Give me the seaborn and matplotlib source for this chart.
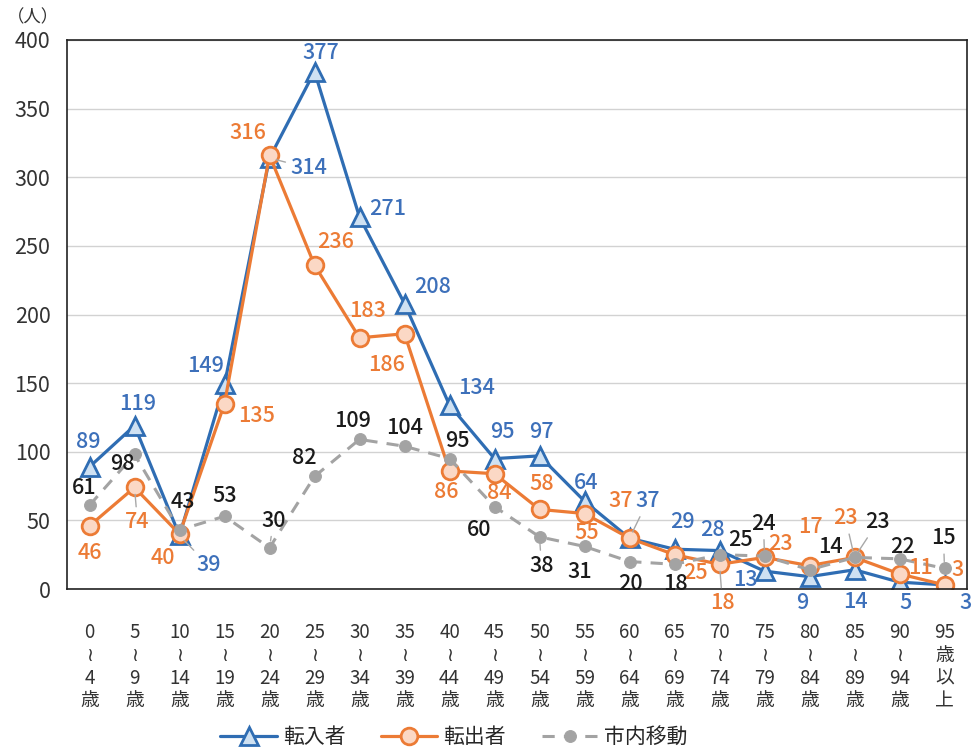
import matplotlib
matplotlib.use("Agg")
import matplotlib.pyplot as plt
import seaborn as sns
import pandas as pd

age_groups = ["0\n≀\n4\n歳", "5\n≀\n9\n歳", "10\n≀\n14\n歳", "15\n≀\n19\n歳", "20\n≀\n24\n歳",
              "25\n≀\n29\n歳", "30\n≀\n34\n歳", "35\n≀\n39\n歳", "40\n≀\n44\n歳", "45\n≀\n49\n歳",
              "50\n≀\n54\n歳", "55\n≀\n59\n歳", "60\n≀\n64\n歳", "65\n≀\n69\n歳", "70\n≀\n74\n歳",
              "75\n≀\n79\n歳", "80\n≀\n84\n歳", "85\n≀\n89\n歳", "90\n≀\n94\n歳", "95\n歳\n以\n上"]
tennyu = [89, 119, 39, 149, 314, 377, 271, 208, 134, 95, 97, 64, 37, 29, 28, 13, 9, 14, 5, 3]
tenshutsu = [46, 74, 40, 135, 316, 236, 183, 186, 86, 84, 58, 55, 37, 25, 18, 23, 17, 23, 11, 3]
shinai = [61, 98, 43, 53, 30, 82, 109, 104, 95, 60, 38, 31, 20, 18, 25, 24, 14, 23, 22, 15]
series_names = ["転入者", "転出者", "市内移動"]
y_ticks = [0, 50, 100, 150, 200, 250, 300, 350, 400]

# label offsets in pixels (dx, dy up) -- layout only
off_tennyu = [(-1, 25), (3, 22), (29, -30), (-19, 18), (39, -10), (6, 19), (28, 8), (28, 17),
              (27, 17), (8, 27), (2, 24), (2, 18), (18, 37), (8, 27), (-7, 21), (-19, -9),
              (-7, -26), (1, -32), (6, -21), (21, -18)]
off_tenshutsu = [(0, -27), (3, -35), (-17, -24), (32, -12), (-22, 22), (21, 23), (8, 27), (-18, -31),
                 (-3, -21), (5, -19), (2, 25), (2, -19), (-9, 37), (21, -18), (3, -39), (16, 13),
                 (1, 39), (-9, 39), (21, 6), (13, 15)]
off_shinai = [(-5, 17), (-12, -10), (3, 28), (0, 20), (4, 27), (-10, 18), (-7, 18), (0, 18),
              (8, 18), (-15, -23), (2, -29), (-5, -26), (1, -22), (1, -20), (21, 15), (-1, 32),
              (21, 23), (23, 35), (3, 12), (-1, 30)]
leaders = {("b", 2), ("b", 4), ("b", 12), ("o", 1), ("o", 14), ("o", 17),
           ("g", 4), ("g", 10), ("g", 15), ("g", 17), ("g", 19)}

BLUE, BLUE_TXT, BLUE_FILL = "#2f6db3", "#3d70ba", "#cfe1f2"
ORANGE, ORANGE_FILL = "#ec7b35", "#fbd8c5"
GRAY = "#a3a3a3"

fonts = ["Noto Sans CJK JP", "DejaVu Sans"]
sns.set_style("white")
plt.rcParams["font.family"] = fonts

df = pd.DataFrame({"x": range(len(age_groups)), "tennyu": tennyu,
                   "tenshutsu": tenshutsu, "shinai": shinai})

fig = plt.figure(figsize=(9.78, 7.51), dpi=100)
ax = fig.add_axes([67 / 978, 1 - 589 / 751, 900 / 978, 549 / 751])

sns.lineplot(data=df, x="x", y="tennyu", ax=ax, color=BLUE, linewidth=2.3,
             marker="^", markersize=13, markerfacecolor=BLUE_FILL, markeredgecolor=BLUE,
             markeredgewidth=2, label=series_names[0])
sns.lineplot(data=df, x="x", y="tenshutsu", ax=ax, color=ORANGE, linewidth=2.3,
             marker="o", markersize=12, markerfacecolor=ORANGE_FILL, markeredgecolor=ORANGE,
             markeredgewidth=2, label=series_names[1])
sns.lineplot(data=df, x="x", y="shinai", ax=ax, color=GRAY, linewidth=2.2,
             linestyle=(0, (4, 3)), marker="o", markersize=8.5, markerfacecolor=GRAY,
             markeredgecolor=GRAY, label=series_names[2])

def put_labels(vals, offs, color, key):
    for i, (v, (dx, dy)) in enumerate(zip(vals, offs)):
        kw = {}
        if (key, i) in leaders:
            kw["arrowprops"] = dict(arrowstyle="-", color="#a8a8a8", lw=1, shrinkA=1, shrinkB=5)
        ax.annotate(str(v), (i, v), xytext=(dx, dy), textcoords="offset pixels",
                    ha="center", va="center", fontsize=15.5, color=color,
                    fontweight="medium", zorder=6, **kw)

put_labels(tennyu, off_tennyu, BLUE_TXT, "b")
put_labels(tenshutsu, off_tenshutsu, ORANGE, "o")
put_labels(shinai, off_shinai, "#1a1a1a", "g")

ax.set_xlim(-0.5, len(age_groups) - 0.5)
ax.set_ylim(0, 400)
ax.set_yticks(y_ticks)
ax.set_xticks(range(len(age_groups)))
ax.set_xticklabels(age_groups, fontsize=13.5, color="#333333", linespacing=1.1, va="top")
ax.set_yticklabels([str(t) for t in y_ticks], fontsize=15.5, color="#333333")
ax.tick_params(axis="x", length=0, pad=24)
ax.tick_params(axis="y", length=0, pad=12)
ax.set_xlabel("")
ax.set_ylabel("")
ax.yaxis.grid(True, color="#d2d2d2", linewidth=1)
ax.xaxis.grid(False)
for s in ax.spines.values():
    s.set_visible(True)
    s.set_color("#222222")
    s.set_linewidth(1.2)

fig.text(33 / 978, 1 - 17 / 751, "（人）", fontsize=12.5, color="#333333", ha="center", va="center")

handles, labels = ax.get_legend_handles_labels()
ax.get_legend().remove()
fig.legend(handles, labels, loc="center", bbox_to_anchor=(454 / 978, 1 - 737 / 751),
           ncol=3, frameon=False, fontsize=15, handlelength=2.7, columnspacing=1.7,
           handletextpad=0.3)

fig.savefig("out.png", dpi=100)
